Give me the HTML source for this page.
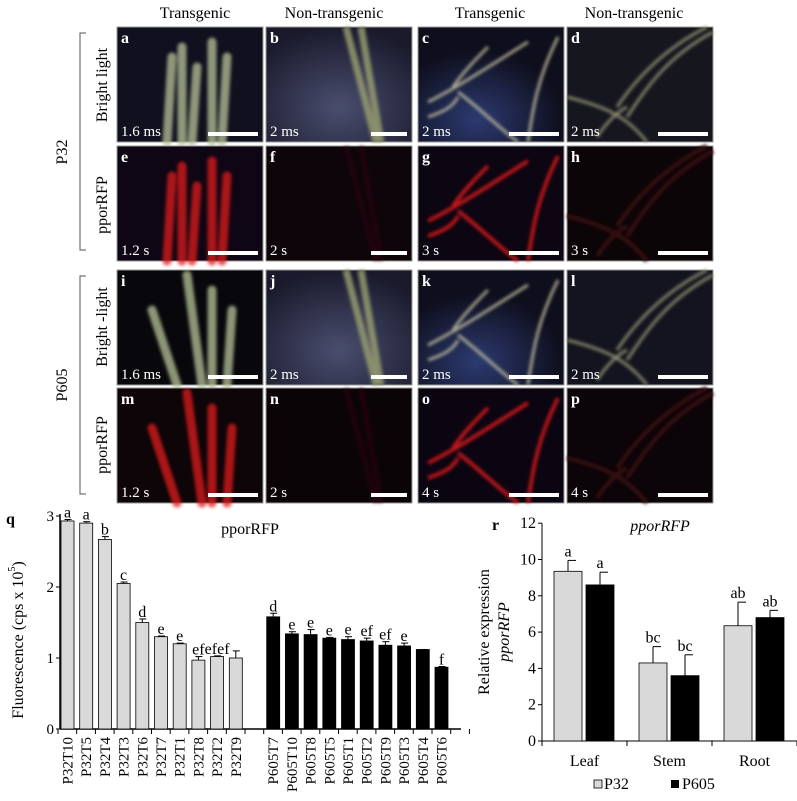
<!DOCTYPE html>
<html><head><meta charset="utf-8"><style>
html,body{margin:0;padding:0;background:#fff;}
svg, svg text{font-family:"Liberation Serif","Times New Roman",serif;}
</style></head><body>
<svg id="fig" width="797" height="796" viewBox="0 0 797 796" xmlns="http://www.w3.org/2000/svg" font-family="Liberation Serif, serif">
<defs>
<radialGradient id="gb" cx="0.5" cy="0.7" r="0.7"><stop offset="0" stop-color="#4a4e6e"/><stop offset="1" stop-color="#1a1a2c"/></radialGradient>
<radialGradient id="gc" cx="0.4" cy="0.8" r="0.6"><stop offset="0" stop-color="#2c3a70"/><stop offset="1" stop-color="#0e0e1c"/></radialGradient>
<filter id="soft" x="-20%" y="-20%" width="140%" height="140%"><feGaussianBlur stdDeviation="1.5"/></filter>
</defs>
<g font-size="16" text-anchor="middle" fill="#000">
<text x="195" y="18">Transgenic</text>
<text x="334" y="18">Non-transgenic</text>
<text x="490" y="18">Transgenic</text>
<text x="634" y="18">Non-transgenic</text>
</g>
<g font-size="16" fill="#000" text-anchor="middle">
<text transform="translate(67,152) rotate(-90)">P32</text>
<path d="M86,33 H80 V250 H86" fill="none" stroke="#555" stroke-width="1"/>
<text transform="translate(107,85) rotate(-90)">Bright light</text>
<text transform="translate(107,205) rotate(-90)">pporRFP</text>
<text transform="translate(67,385) rotate(-90)">P605</text>
<path d="M86,276 H80 V494 H86" fill="none" stroke="#555" stroke-width="1"/>
<text transform="translate(107,327) rotate(-90)">Bright -light</text>
<text transform="translate(107,445) rotate(-90)">pporRFP</text>
</g>
<g id="photos"></g>
<g id="chartq"></g>
<g id="chartr"></g>
</svg>
<script>
const NS='http://www.w3.org/2000/svg';
function mk(p,tag,a,txt){const e=document.createElementNS(NS,tag);for(const k in a)e.setAttribute(k,a[k]);if(txt!==undefined)e.textContent=txt;p.appendChild(e);return e;}
const colX=[117,266,418,567], rowY=[27,146,270,388], PW=146, PH=115;
const letters=[['a','b','c','d'],['e','f','g','h'],['i','j','k','l'],['m','n','o','p']];
const times=[['1.6 ms','2 ms','2 ms','2 ms'],['1.2 s','2 s','3 s','3 s'],['1.6 ms','2 ms','2 ms','2 ms'],['1.2 s','2 s','4 s','4 s']];
const bgs=[['#10101e','url(#gb)','url(#gc)','#16161f'],['#0e0614','#0d0509','#0c0512','#0c0508'],['#08080c','url(#gb)','url(#gc)','#141420'],['#0d0508','#0b0407','#0b0512','#0b0408']];
const ph=document.getElementById('photos');
for(let r=0;r<4;r++)for(let c=0;c<4;c++){
 const x=colX[c],y=rowY[r];
 const g=mk(ph,'g',{transform:`translate(${x},${y})`});
 
 
 mk(g,'rect',{x:0,y:0,width:PW,height:PH,fill:bgs[r][c],stroke:'#999','stroke-width':1});
 const inner=mk(g,'g',{filter:'url(#soft)'});
 const leaf=(c<2), bright=(r%2===0), trans=(c%2===0);
 let col;
 if(bright) col = leaf ? '#b8c49a' : '#b8b08a';
 else col = trans ? '#e01818' : '#3a0a0e';
 if(leaf){
  if(c===0){
   const ls = r<2 ? [[50,115,55,30],[65,115,65,20],[95,115,95,15],[105,115,110,30],[75,115,80,40]] : [[60,115,35,40],[85,115,70,5],[95,115,95,20],[110,115,115,40]];
   ls.forEach(l=>mk(inner,'line',{x1:l[0],y1:l[1],x2:l[2],y2:l[3],stroke:col,'stroke-width':9,'stroke-linecap':'round',opacity:0.75}));
  } else {
   const ls=[[110,115,80,0],[115,115,95,0]];
   ls.forEach(l=>mk(inner,'line',{x1:l[0],y1:l[1],x2:l[2],y2:l[3],stroke:bright?'#9aa070':col,'stroke-width':bright?7:5,opacity:bright?0.8:0.5}));
  }
 } else {
  const paths = c===2 ? ['M10,75 C40,60 70,40 110,15','M40,65 C60,80 80,100 100,115','M35,60 C45,45 60,30 70,20','M110,115 C115,80 120,50 140,10','M10,90 C25,85 35,80 40,70'] : ['M0,70 C40,80 60,90 80,115','M60,90 C80,60 100,30 146,5','M50,80 C70,50 100,20 140,0','M30,110 C40,95 50,85 60,80'];
  paths.forEach(p=>mk(inner,'path',{d:p,fill:'none',stroke:bright?(c===2?'#c8c4a0':'#9a9a78'):col,'stroke-width':bright?3:(trans?4:5),opacity:bright?0.8:0.8}));
 }
 mk(g,'text',{x:4,y:16,fill:'#fff','font-size':16,'font-weight':'bold'},letters[r][c]);
 mk(g,'text',{x:4,y:109,fill:'#fff','font-size':15},times[r][c]);
 const sw=(c===1)?36:50;
 mk(g,'rect',{x:PW-sw-5,y:PH-10,width:sw,height:4,fill:'#fff'});
}

const qCats=['P32T10','P32T5','P32T4','P32T3','P32T6','P32T7','P32T1','P32T8','P32T2','P32T9','P605T7','P605T10','P605T8','P605T5','P605T1','P605T2','P605T9','P605T3','P605T4','P605T6'];
const qVals=[2.93,2.9,2.67,2.05,1.5,1.3,1.2,0.97,1.02,1.0,1.58,1.34,1.33,1.28,1.26,1.24,1.18,1.17,1.12,0.87];
const qErr=[0.02,0.02,0.04,0.02,0.05,0.01,0.01,0.05,0.01,0.1,0.05,0.03,0.07,0.01,0.04,0.04,0.05,0.04,0,0.01];
const qLetters=['a','a','b','c','d','e','e','ef','efef','','d','e','e','e','e','ef','ef','e','','f'];
const qTicks=[0,1,2,3];
(function(){
 const g=document.getElementById('chartq');
 const y0=729, pxu=71, ax=60;
 const ys=v=>y0-v*pxu;
 const slot=18.7;
 const xs=i=>ax+1+(i<10?i:i+1)*slot;
 mk(g,'text',{x:6,y:524,'font-size':16,'font-weight':'bold'},'q');
 mk(g,'text',{x:250,y:534,'font-size':16,'text-anchor':'middle'},'pporRFP');
 const yt=mk(g,'text',{transform:'translate(23,640) rotate(-90)','font-size':16,'text-anchor':'middle'});
 yt.innerHTML='Fluorescence (cps x 10<tspan dy="-8" font-size="10">5</tspan><tspan dy="8">)</tspan>';
 
 
 mk(g,'line',{x1:ax,y1:ys(3)-2,x2:ax,y2:y0,stroke:'#000','stroke-width':1.5});
 mk(g,'line',{x1:ax,y1:y0,x2:461,y2:y0,stroke:'#000','stroke-width':1.5});
 qTicks.forEach(t=>{
  mk(g,'line',{x1:ax-4,y1:ys(t),x2:ax,y2:ys(t),stroke:'#000'});
  const tl=mk(g,'text',{x:ax-6,y:ys(t)+5,'font-size':15,'text-anchor':'end'},String(t));
  
  
 });
 for(let k=0;k<=22;k++){const tx=ax+k*slot-2;mk(g,'line',{x1:tx,y1:y0,x2:tx,y2:y0+5,stroke:'#000'});}
 qCats.forEach((c,i)=>{
  const x=xs(i), bw=13, v=qVals[i];
  const b=mk(g,'rect',{x:x,y:ys(v),width:bw,height:v*pxu,fill:i<10?'#d9d9d9':'#000',stroke:'#000','stroke-width':0.8});
  
  
  const et=ys(v+qErr[i]);
  mk(g,'line',{x1:x+bw/2,y1:ys(v),x2:x+bw/2,y2:et,stroke:'#000'});
  mk(g,'line',{x1:x+bw/2-3,y1:et,x2:x+bw/2+4,y2:et,stroke:'#000'});
  if(qLetters[i]){mk(g,'text',{x:x+bw/2,y:et-2,'font-size':16,'text-anchor':'middle'},qLetters[i]);}
  const l=mk(g,'text',{transform:`translate(${x+bw/2+5},${y0+8}) rotate(-90)`,'font-size':15,'text-anchor':'end'},c);
  
  
 });
})();

const rCats=['Leaf','Stem','Root'];
const rP32=[9.35,4.3,6.35];
const rP32Err=[0.6,0.9,1.3];
const rP605=[8.6,3.6,6.8];
const rP605Err=[0.7,1.15,0.4];
const rLetters32=['a','bc','ab'];
const rLetters605=['a','bc','ab'];
const rTicks=[0,2,4,6,8,10,12];
(function(){
 const g=document.getElementById('chartr');
 const y0=741, pxu=18.15, ax=542, gw=85;
 const ys=v=>y0-v*pxu;
 mk(g,'text',{x:492,y:530,'font-size':16,'font-weight':'bold'},'r');
 mk(g,'text',{x:660,y:531,'font-size':16,'font-style':'italic','text-anchor':'middle'},'pporRFP');
 mk(g,'text',{transform:'translate(489,632) rotate(-90)','font-size':16,'text-anchor':'middle'},'Relative expression');
 mk(g,'text',{transform:'translate(509,632) rotate(-90)','font-size':16,'font-style':'italic','text-anchor':'middle'},'pporRFP');
 mk(g,'line',{x1:ax,y1:ys(12),x2:ax,y2:y0,stroke:'#000'});
 mk(g,'line',{x1:ax,y1:y0,x2:797,y2:y0,stroke:'#000'});
 rTicks.forEach(t=>{
  mk(g,'line',{x1:ax-4,y1:ys(t),x2:ax,y2:ys(t),stroke:'#000'});
  const tl=mk(g,'text',{x:ax-6,y:ys(t)+5,'font-size':16,'text-anchor':'end'},String(t));
  
  
 });
 for(let k=0;k<=3;k++)mk(g,'line',{x1:ax+k*gw,y1:y0,x2:ax+k*gw,y2:y0+5,stroke:'#000'});
 const bar=(x,v,e,fill,lab,name)=>{
  const b=mk(g,'rect',{x:x,y:ys(v),width:28,height:v*pxu,fill:fill,stroke:'#000','stroke-width':0.8});
  
  
  const et=ys(v+e);
  mk(g,'line',{x1:x+14,y1:ys(v),x2:x+14,y2:et,stroke:'#000'});
  mk(g,'line',{x1:x+14,y1:et,x2:x+22,y2:et,stroke:'#000'});
  mk(g,'text',{x:x+14,y:et-4,'font-size':16,'text-anchor':'middle'},lab);
 };
 rCats.forEach((c,i)=>{
  const gx=ax+i*gw;
  bar(gx+12,rP32[i],rP32Err[i],'#d9d9d9',rLetters32[i],'r-bar-p32-'+c.toLowerCase());
  bar(gx+44,rP605[i],rP605Err[i],'#000',rLetters605[i],'r-bar-p605-'+c.toLowerCase());
  const l=mk(g,'text',{x:gx+gw/2,y:766,'font-size':16,'text-anchor':'middle'},c);
  
  
 });
 const lg=mk(g,'g',{});
 
 
 mk(lg,'rect',{x:594,y:780,width:8,height:8,fill:'#d9d9d9',stroke:'#000','stroke-width':0.8});
 mk(lg,'text',{x:604,y:789,'font-size':16},'P32');
 mk(lg,'rect',{x:671,y:780,width:8,height:8,fill:'#000'});
 mk(lg,'text',{x:682,y:789,'font-size':16},'P605');
})();
</script>
</body></html>
